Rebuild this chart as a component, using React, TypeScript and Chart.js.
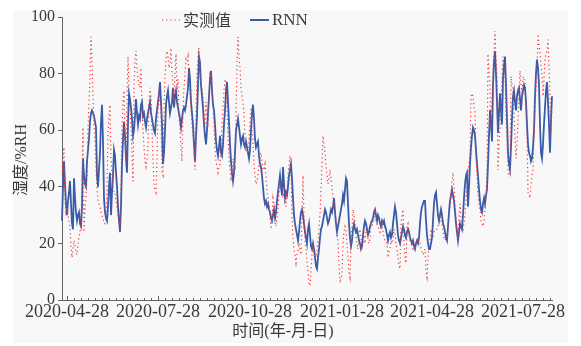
import React, { useEffect, useRef } from 'react';
import { Chart, registerables } from 'chart.js';

Chart.register(...registerables);

// Daily series starting 2020-04-23
const START_DATE = '2020-04-23';

const measured = [
  44, 50, 54, 35, 31, 33, 30, 28, 26, 19,
  15, 18, 21, 19, 17, 16, 20, 22, 24, 28,
  40, 61, 24, 33, 36, 43, 61, 70, 79, 93,
  84, 72, 62, 56, 47, 40, 35, 34, 33, 31,
  30, 29, 27, 27, 28, 40, 59, 65, 69, 50,
  44, 40, 38, 38, 35, 33, 30, 28, 25, 40,
  61, 70, 74, 57, 49, 70, 86, 75, 68, 60,
  52, 42, 75, 85, 88, 82, 78, 76, 75, 82,
  68, 60, 54, 49, 47, 50, 55, 70, 75, 72,
  60, 50, 40, 39, 38, 50, 68, 72, 70, 66,
  45, 44, 68, 79, 85, 88, 86, 82, 84, 89,
  80, 76, 70, 80, 87, 74, 78, 66, 60, 54,
  49, 68, 75, 80, 85, 84, 86, 78, 73, 68,
  62, 58, 54, 46, 65, 80, 86, 89, 81, 76,
  75, 72, 66, 61, 70, 63, 61, 72, 81, 78,
  74, 70, 62, 53, 49, 47, 45, 47, 48, 55,
  62, 68, 74, 78, 77, 68, 58, 50, 46, 43,
  45, 50, 48, 47, 65, 84, 93, 86, 82, 75,
  72, 70, 66, 58, 53, 52, 53, 56, 63, 68,
  60, 56, 48, 44, 41, 42, 44, 48, 50, 52,
  49, 46, 46, 48, 44, 38, 36, 34, 30, 25,
  28, 36, 34, 32, 26, 29, 32, 37, 41, 39,
  38, 36, 38, 36, 33, 39, 44, 48, 51, 44,
  30, 22, 18, 16, 13, 16, 17, 20, 18, 16,
  30, 44, 30, 21, 18, 14, 10, 6, 5, 10,
  16, 20, 18, 17, 15, 18, 21, 26, 30, 39,
  48, 58, 55, 52, 47, 44, 41, 43, 46, 43,
  40, 36, 34, 32, 28, 26, 20, 13, 6, 8,
  9, 20, 24, 26, 25, 20, 15, 10, 8, 20,
  25, 32, 30, 27, 22, 20, 18, 22, 25, 22,
  18, 20, 22, 20, 25, 24, 22, 20, 22, 27,
  26, 27, 29, 31, 28, 27, 26, 25, 24, 26,
  27, 24, 22, 21, 21, 20, 15, 17, 18, 21,
  20, 21, 25, 24, 20, 18, 15, 12, 11, 27,
  30, 32, 20, 15, 13, 26, 27, 24, 21, 20,
  19, 18, 19, 18, 20, 21, 22, 20, 20, 18,
  17, 16, 17, 18, 10, 8, 15, 20, 21, 25,
  24, 22, 24, 25, 25, 25, 26, 28, 30, 28,
  27, 24, 22, 21, 22, 22, 26, 29, 32, 38,
  42, 45, 40, 34, 29, 25, 22, 30, 34, 28,
  26, 25, 27, 30, 36, 40, 45, 48, 52, 72,
  73, 72, 68, 67, 51, 44, 37, 34, 32, 28,
  27, 26, 28, 32, 38, 44, 87, 80, 76, 61,
  70, 81, 88, 95, 85, 79, 46, 55, 61, 67,
  78, 86, 82, 79, 65, 58, 45, 44, 44, 79,
  76, 73, 65, 58, 50, 55, 64, 72, 81, 76,
  73, 79, 78, 77, 68, 58, 38, 37, 36, 41,
  44, 46, 58, 67, 76, 81, 94, 90, 88, 83,
  80, 72, 78, 85, 87, 88, 92, 82, 72, 59,
  67,
];

const rnn = [
  28, 40, 49, 41, 34, 30, 35, 38, 42, 34,
  27, 25, 43, 36, 31, 28, 30, 31, 27, 26,
  33, 50, 44, 41, 40, 49, 53, 57, 63, 66,
  67, 66, 65, 63, 61, 44, 40, 46, 52, 63,
  69, 56, 36, 31, 29, 28, 33, 40, 45, 30,
  38, 44, 53, 51, 45, 40, 33, 28, 24, 33,
  48, 57, 63, 58, 50, 45, 62, 73, 71, 68,
  64, 58, 60, 65, 71, 66, 62, 65, 64, 69,
  70, 65, 66, 63, 61, 64, 66, 68, 70, 66,
  64, 62, 60, 59, 64, 67, 70, 73, 77, 70,
  62, 48, 52, 60, 69, 72, 74, 70, 66, 68,
  70, 75, 68, 72, 74, 70, 68, 66, 64, 61,
  64, 67, 68, 67, 69, 72, 75, 82, 78, 70,
  66, 62, 55, 49, 58, 65, 76, 86, 84, 76,
  72, 68, 62, 58, 55, 60, 66, 72, 78, 81,
  74, 69, 67, 62, 56, 53, 51, 54, 58, 52,
  51, 55, 62, 67, 74, 77, 70, 63, 55, 49,
  45, 42, 45, 52, 60, 62, 64, 61, 58, 55,
  57, 58, 55, 54, 56, 54, 52, 50, 53, 60,
  66, 69, 64, 57, 54, 55, 56, 51, 48, 47,
  44, 40, 36, 34, 35, 33, 34, 32, 31, 29,
  28, 30, 32, 29, 31, 35, 38, 41, 44, 40,
  37, 47, 41, 36, 38, 37, 40, 44, 46, 48,
  43, 36, 30, 27, 25, 23, 21, 24, 28, 31,
  32, 30, 27, 24, 22, 20, 25, 27, 23, 19,
  18, 20, 18, 15, 12, 11, 15, 18, 22, 25,
  26, 28, 30, 32, 31, 29, 27, 28, 30, 32,
  31, 33, 36, 31, 27, 24, 26, 28, 30, 32,
  34, 37, 35, 39, 43, 42, 34, 27, 22, 19,
  21, 25, 27, 25, 24, 25, 23, 21, 20, 18,
  19, 23, 26, 28, 27, 25, 23, 24, 26, 27,
  28, 29, 31, 32, 30, 28, 30, 29, 27, 26,
  28, 27, 28, 26, 25, 23, 21, 23, 24, 22,
  23, 27, 30, 33, 31, 27, 23, 21, 20, 22,
  24, 26, 25, 23, 22, 24, 25, 24, 22, 21,
  20, 21, 19, 18, 20, 21, 20, 22, 27, 31,
  33, 34, 35, 35, 28, 23, 20, 18, 18, 20,
  22, 28, 34, 37, 38, 34, 30, 28, 30, 32,
  30, 27, 26, 24, 22, 21, 26, 31, 35, 37,
  39, 37, 35, 31, 27, 24, 21, 24, 27, 26,
  25, 30, 36, 41, 44, 45, 33, 40, 48, 54,
  58, 61, 60, 58, 53, 48, 44, 39, 35, 32,
  31, 34, 36, 34, 37, 39, 48, 58, 67, 62,
  56, 76, 84, 88, 80, 70, 59, 66, 73, 67,
  62, 78, 83, 86, 76, 64, 52, 48, 46, 54,
  64, 72, 74, 70, 67, 72, 74, 75, 71, 67,
  72, 74, 76, 75, 70, 62, 55, 52, 51, 49,
  50, 54, 60, 72, 80, 85, 82, 76, 62, 52,
  50, 55, 62, 68, 74, 77, 70, 62, 52, 64,
  72,
];

const tickLabels = ['2020-04-28', '2020-07-28', '2020-10-28', '2021-01-28', '2021-04-28', '2021-07-28'];
const yTickValues = [0, 20, 40, 60, 80, 100];
const seriesNames = ['实测值', 'RNN'];
const xTitle = '时间(年-月-日)';
const yTitle = '湿度/%RH';

const dates: string[] = measured.map((_, i) => {
  const t = Date.parse(START_DATE + 'T00:00:00Z') + i * 86400000;
  return new Date(t).toISOString().slice(0, 10);
});

const RED = '#f03a3a';
const BLUE = '#3a5ca8';
const TEXT = '#3a3a3a';
const AXIS = '#666666';

const decor = {
  id: 'decor',
  beforeDraw(chart: any) {
    const ctx = chart.ctx;
    ctx.save();
    ctx.fillStyle = '#ffffff';
    ctx.fillRect(0, 0, chart.width, chart.height);
    ctx.fillStyle = '#f8f8f8';
    ctx.fillRect(13, 10, 555, 333);
    ctx.restore();
  },
  afterDraw(chart: any) {
    const ctx = chart.ctx;
    const xs = chart.scales.x;
    const area = chart.chartArea;
    ctx.save();
    // x-axis tick marks (weekly minor, labelled major), pointing up
    ctx.strokeStyle = AXIS;
    ctx.lineWidth = 1;
    const first = dates.indexOf(tickLabels[0]);
    for (let i = first % 7; i < dates.length; i += 7) {
      const px = Math.round(xs.getPixelForValue(i)) + 0.5;
      const major = tickLabels.includes(dates[i]);
      ctx.beginPath();
      ctx.moveTo(px, area.bottom);
      ctx.lineTo(px, area.bottom - (major ? 4 : 2));
      ctx.stroke();
    }
    // legend
    const ly = 20;
    ctx.beginPath();
    ctx.setLineDash([1.2, 3]);
    ctx.strokeStyle = RED;
    ctx.lineWidth = 1.2;
    ctx.moveTo(162, ly);
    ctx.lineTo(180, ly);
    ctx.stroke();
    ctx.setLineDash([]);
    ctx.fillStyle = TEXT;
    ctx.textBaseline = 'middle';
    ctx.textAlign = 'left';
    ctx.font = '16px "Noto Sans CJK SC", "Liberation Serif"';
    ctx.fillText(seriesNames[0], 183, ly);
    ctx.beginPath();
    ctx.strokeStyle = BLUE;
    ctx.lineWidth = 2;
    ctx.moveTo(250, ly);
    ctx.lineTo(269, ly);
    ctx.stroke();
    ctx.font = '17px "Liberation Serif"';
    ctx.fillText(seriesNames[1], 272, ly + 1);
    // axis titles
    ctx.font = '16px "Liberation Serif", "Noto Sans CJK SC"';
    ctx.textAlign = 'center';
    ctx.fillText(xTitle, 283, 332);
    ctx.translate(22, 160);
    ctx.rotate(-Math.PI / 2);
    ctx.fillText(yTitle, 0, 0);
    ctx.restore();
  },
};

export default function App() {
  const ref = useRef<HTMLCanvasElement | null>(null);
  useEffect(() => {
    document.body.style.margin = '0';
    const canvas = ref.current;
    if (!canvas) return;
    const chart = new Chart(canvas, {
      type: 'line',
      data: {
        labels: dates,
        datasets: [
          {
            label: seriesNames[0],
            data: measured,
            borderColor: RED,
            borderWidth: 1.2,
            borderDash: [1.2, 3],
            pointRadius: 0,
            tension: 0,
            fill: false,
          },
          {
            label: seriesNames[1],
            data: rnn,
            borderColor: BLUE,
            borderWidth: 1.8,
            pointRadius: 0,
            tension: 0,
            fill: false,
          },
        ],
      },
      options: {
        responsive: false,
        devicePixelRatio: 1,
        animation: false,
        events: [],
        layout: { padding: { top: 17, right: 29, left: 0, bottom: 0 } },
        plugins: {
          legend: { display: false },
          tooltip: { enabled: false },
          title: { display: false },
        },
        scales: {
          x: {
            type: 'category',
            offset: false,
            grid: { display: false, drawTicks: false },
            border: { display: true, color: AXIS, width: 1 },
            ticks: {
              autoSkip: false,
              maxRotation: 0,
              minRotation: 0,
              padding: 1,
              color: TEXT,
              font: { family: '"Liberation Serif"', size: 18 },
              callback: (_v: any, idx: number) => (tickLabels.includes(dates[idx]) ? dates[idx] : ''),
            },
            afterFit: (s: any) => {
              s.height = 46;
            },
          },
          y: {
            min: 0,
            max: 100,
            afterBuildTicks: (s: any) => {
              s.ticks = yTickValues.map((v) => ({ value: v }));
            },
            grid: { display: true, drawOnChartArea: false, drawTicks: true, tickLength: 4, color: AXIS },
            border: { display: true, color: AXIS, width: 1 },
            ticks: {
              padding: 3,
              color: TEXT,
              font: { family: '"Liberation Serif"', size: 16 },
            },
            afterFit: (s: any) => {
              s.width = 62;
            },
          },
        },
      },
      plugins: [decor],
    });
    return () => chart.destroy();
  }, []);
  return <canvas ref={ref} width={581} height={346} style={{ display: 'block' }} />;
}
